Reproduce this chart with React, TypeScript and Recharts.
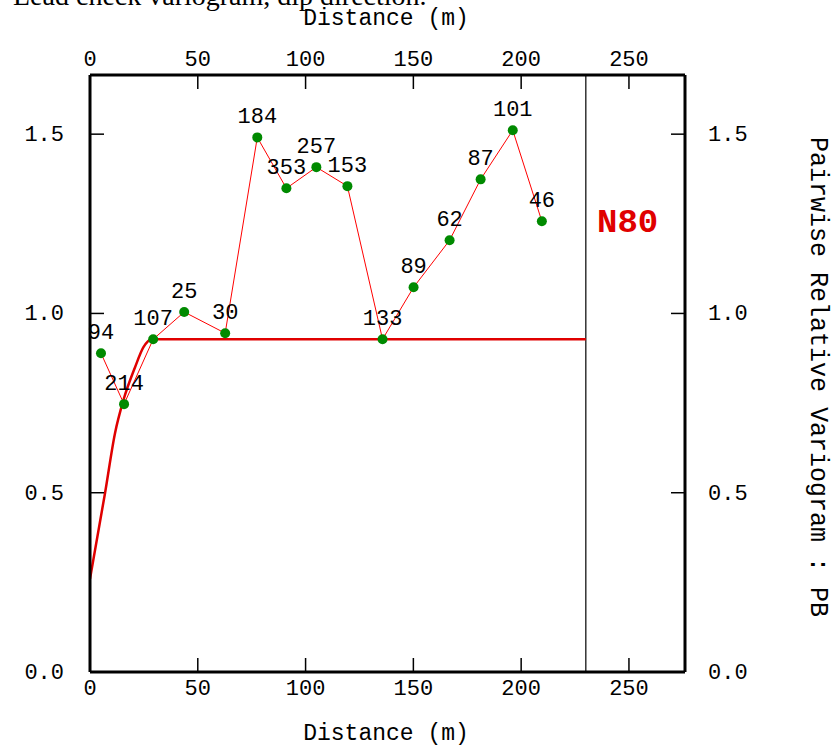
import React from 'react';
import { ComposedChart, Line, XAxis, YAxis, ReferenceLine, LabelList } from 'recharts';

// experimental variogram points (lag distance, gamma, number of pairs)
const lagDistance = [5.1, 15.8, 29.3, 43.7, 62.7, 77.6, 91.1, 105.0, 119.4, 135.7, 150.1, 166.8, 181.2, 196.1, 209.6];
const gammaValues = [0.889, 0.747, 0.928, 1.004, 0.945, 1.491, 1.349, 1.408, 1.355, 0.928, 1.073, 1.204, 1.374, 1.511, 1.257];
const pairCounts = [94, 214, 107, 25, 30, 184, 353, 257, 153, 133, 89, 62, 87, 101, 46];

// fitted model
const modelDistance = [0, 7, 11.6, 15.5, 20.9, 24.8, 29, 230];
const modelGamma = [0.26, 0.5, 0.666, 0.758, 0.85, 0.906, 0.928, 0.928];

const xTicks = [0, 50, 100, 150, 200, 250];
const yTicks = [0, 0.5, 1.0, 1.5];

const MONO = '"Liberation Mono", "DejaVu Sans Mono", monospace';
const FS = 22;

const points = lagDistance.map((d, i) => ({ dist: d, gamma: gammaValues[i], pairs: pairCounts[i] }));
const model = modelDistance.map((d, i) => ({ dist: d, gamma: modelGamma[i] }));

const BottomTick = ({ x, y, payload }: any) => (
    <g>
        <line x1={x} x2={x} y1={y} y2={y - 14} stroke="#000" strokeWidth={1.5} />
        <text x={x} y={y + 23} textAnchor="middle" fontFamily={MONO} fontSize={FS} fill="#000">{payload.value}</text>
    </g>
);

const TopTick = ({ x, y, payload }: any) => (
    <g>
        <line x1={x} x2={x} y1={y} y2={y + 14} stroke="#000" strokeWidth={1.5} />
        <text x={x} y={y - 9} textAnchor="middle" fontFamily={MONO} fontSize={FS} fill="#000">{payload.value}</text>
    </g>
);

const LeftTick = ({ x, y, payload }: any) => (
    <g>
        <line x1={x} x2={x + 14} y1={y} y2={y} stroke="#000" strokeWidth={1.5} />
        <text x={x - 26} y={y + 7} textAnchor="end" fontFamily={MONO} fontSize={FS} fill="#000">{Number(payload.value).toFixed(1)}</text>
    </g>
);

const RightTick = ({ x, y, payload }: any) => (
    <g>
        <line x1={x} x2={x - 14} y1={y} y2={y} stroke="#000" strokeWidth={1.5} />
        <text x={x + 23} y={y + 7} textAnchor="start" fontFamily={MONO} fontSize={FS} fill="#000">{Number(payload.value).toFixed(1)}</text>
    </g>
);

const frame = { stroke: '#000', strokeWidth: 3 };

export default function App() {
    return (
        <div style={{ position: 'fixed', left: 0, top: 0, width: 835, height: 747, background: '#fff', overflow: 'hidden' }}>
            <ComposedChart width={835} height={747} margin={{ top: 45, right: 90, bottom: 45, left: 30 }}>
                <XAxis xAxisId="b" type="number" dataKey="dist" domain={[0, 276]} ticks={xTicks} interval={0}
                    height={30} tickSize={0} tickMargin={0} tickLine={false} axisLine={frame} tick={<BottomTick />} allowDataOverflow />
                <XAxis xAxisId="t" orientation="top" type="number" dataKey="dist" domain={[0, 276]} ticks={xTicks} interval={0}
                    height={30} tickSize={0} tickMargin={0} tickLine={false} axisLine={frame} tick={<TopTick />} allowDataOverflow />
                <YAxis yAxisId="l" type="number" domain={[0, 1.665]} ticks={yTicks} interval={0}
                    width={60} tickSize={0} tickMargin={0} tickLine={false} axisLine={frame} tick={<LeftTick />} allowDataOverflow />
                <YAxis yAxisId="r" orientation="right" type="number" domain={[0, 1.665]} ticks={yTicks} interval={0}
                    width={60} tickSize={0} tickMargin={0} tickLine={false} axisLine={frame} tick={<RightTick />} allowDataOverflow />
                <ReferenceLine xAxisId="b" yAxisId="l" x={230} stroke="#000" strokeWidth={1.2} />
                <Line xAxisId="b" yAxisId="l" data={model} dataKey="gamma" type="monotone" stroke="#e00000"
                    strokeWidth={2.5} dot={false} isAnimationActive={false} />
                <Line xAxisId="b" yAxisId="l" data={points} dataKey="gamma" type="linear" stroke="#ff0000"
                    strokeWidth={1} dot={{ r: 5, fill: '#008a00', stroke: 'none' }} isAnimationActive={false}>
                    <LabelList dataKey="pairs" position="top" offset={14} fill="#000" fontFamily={MONO} fontSize={FS} />
                </Line>
            </ComposedChart>
            <svg width={835} height={747} style={{ position: 'absolute', left: 0, top: 0, pointerEvents: 'none' }}>
                <text x={13} y={5} fontFamily='"Liberation Serif", serif' fontSize={28} fill="#000">Lead check variogram, dip direction.</text>
                <text x={386} y={25} textAnchor="middle" fontFamily={MONO} fontSize={23} fill="#000">Distance (m)</text>
                <text x={386} y={740} textAnchor="middle" fontFamily={MONO} fontSize={23} fill="#000">Distance (m)</text>
                <text x={817} y={377} transform="rotate(90 817 377)" textAnchor="middle" dominantBaseline="central"
                    fontFamily={MONO} fontSize={25} fill="#000">Pairwise Relative Variogram : PB</text>
                <text x={597} y={232} fontFamily={MONO} fontWeight="bold" fontSize={34} fill="#e00000">N80</text>
            </svg>
        </div>
    );
}
